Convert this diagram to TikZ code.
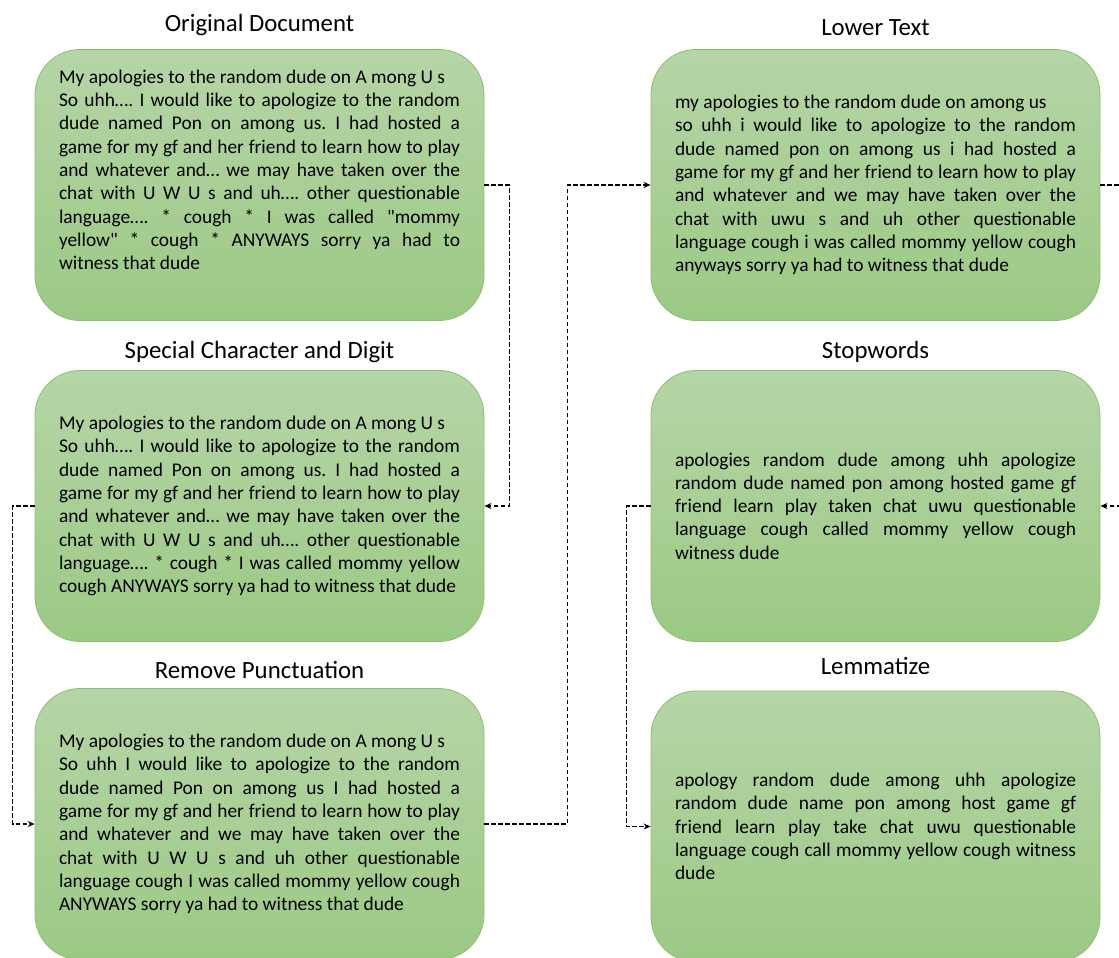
\documentclass[tikz,border=0pt]{standalone}
\usepackage{fontspec}
\setmainfont{Carlito}
\usetikzlibrary{positioning,arrows.meta}
\definecolor{boxtop}{HTML}{B5D5A6}
\definecolor{boxbot}{HTML}{9CC985}
\definecolor{boxline}{HTML}{8DBF70}
\frenchspacing
\begin{document}
\begin{tikzpicture}[x=1pt, y=1pt, >={Stealth[length=7pt,width=6pt]},
		box/.style={draw=boxline, line width=0.8pt, rounded corners=45pt, top color=boxtop, bottom color=boxbot, minimum width=449pt, minimum height=271pt, text width=401pt, inner sep=0pt, align=justify, font=\fontsize{19.4}{23.3}\selectfont},
		title/.style={inner sep=0pt, text depth=0pt, font=\fontsize{24.8}{29}\selectfont},
		flow/.style={->, line width=1.5pt, dash pattern=on 4.5pt off 2.5pt}]
			\useasboundingbox (0,0) rectangle (1119,-958);
			\node[box] (orig) at (259.5,-185) {My apologies to the random dude on A mong U s\\
				So uhh…. I would like to apologize to the random\linebreak
				dude named Pon on among us. I had hosted a\linebreak
				game for my gf and her friend to learn how to play\linebreak
				and whatever and… we may have taken over the\linebreak
				chat with U W U s and uh…. other questionable\linebreak
				language…. * cough * I was called \textquotedbl mommy\linebreak
				yellow\textquotedbl{} * cough * ANYWAYS sorry ya had to\linebreak
				witness that dude\\ \strut};
			\node[box] (special) at (259.5,-506) {My apologies to the random dude on A mong U s\\
				So uhh…. I would like to apologize to the random\linebreak
				dude named Pon on among us. I had hosted a\linebreak
				game for my gf and her friend to learn how to play\linebreak
				and whatever and… we may have taken over the\linebreak
				chat with U W U s and uh…. other questionable\linebreak
				language…. * cough * I was called mommy yellow\linebreak
				cough ANYWAYS sorry ya had to witness that dude};
			\node[box] (punct) at (259.5,-824) {My apologies to the random dude on A mong U s\\
				So uhh I would like to apologize to the random\linebreak
				dude named Pon on among us I had hosted a\linebreak
				game for my gf and her friend to learn how to play\linebreak
				and whatever and we may have taken over the\linebreak
				chat with U W U s and uh other questionable\linebreak
				language cough I was called mommy yellow cough\linebreak
				ANYWAYS sorry ya had to witness that dude};
			\node[box] (lower) at (875.5,-185) {my apologies to the random dude on among us\\
				so uhh i would like to apologize to the random\linebreak
				dude named pon on among us i had hosted a\linebreak
				game for my gf and her friend to learn how to play\linebreak
				and whatever and we may have taken over the\linebreak
				chat with uwu s and uh other questionable\linebreak
				language cough i was called mommy yellow cough\linebreak
				anyways sorry ya had to witness that dude};
			\node[box] (stop) at (875.5,-506) {apologies random dude among uhh apologize\linebreak
				random dude named pon among hosted game gf\linebreak
				friend learn play taken chat uwu questionable\linebreak
				language cough called mommy yellow cough\linebreak
				witness dude};
			\node[box] (lemma) at (875.5,-826.5) {apology random dude among uhh apologize\linebreak
				random dude name pon among host game gf\linebreak
				friend learn play take chat uwu questionable\linebreak
				language cough call mommy yellow cough witness\linebreak
				dude};
			\node[title, above=17.6pt of orig] (origT) {Original Document};
			\node[title, above=11.7pt of special] (specialT) {Special Character and Digit};
			\node[title, above=9pt of punct] (punctT) {Remove Punctuation};
			\node[title, above=13.3pt of lower] (lowerT) {Lower Text};
			\node[title, above=11.7pt of stop] (stopT) {Stopwords};
			\node[title, above=16pt of lemma] (lemmaT) {Lemmatize};
			\draw[flow] (orig.east) -- ++(25,0) |- (special.east);
			\draw[flow] (special.west) -- ++(-22,0) |- (punct.west);
			\draw[flow] (punct.east) -- ++(83,0) |- (lower.west);
			\draw[flow] (lower.east) -- ++(25,0) |- (stop.east);
			\draw[flow] (stop.west) -- ++(-24,0) |- (lemma.west);
		\end{tikzpicture}
\end{document}
